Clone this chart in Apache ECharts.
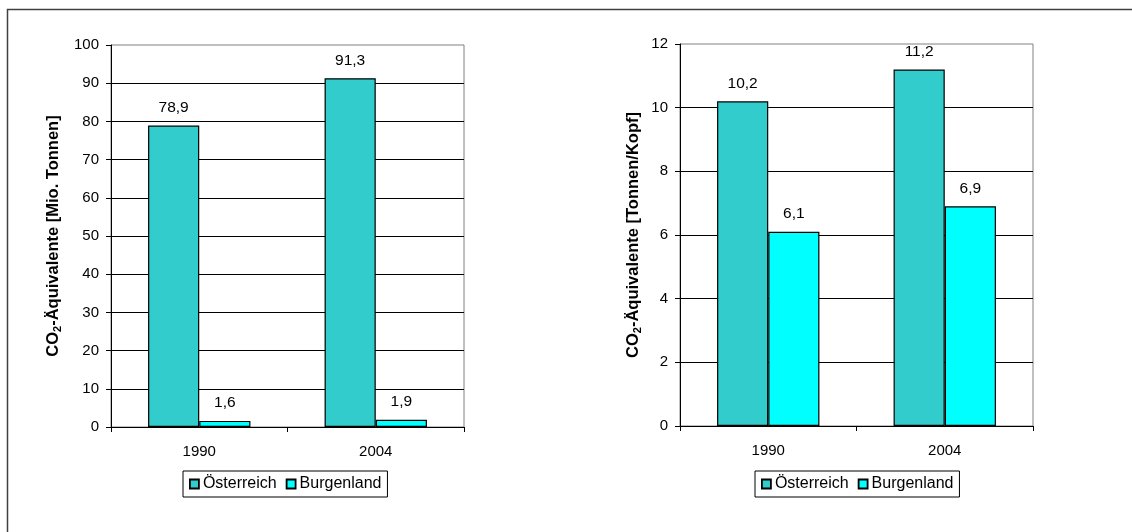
<!DOCTYPE html>
<html>
<head>
<meta charset="utf-8">
<script src="https://cdn.jsdelivr.net/npm/echarts@6/dist/echarts.min.js"></script>
<style>
  html, body { margin: 0; padding: 0; background: #fff; }
  #chart { width: 1132px; height: 532px; }
</style>
</head>
<body>
<div id="chart"></div>
<script>
// Years shown on both panels
const categories = ['1990', '2004'];
// Total CO2-equivalent emissions, million tonnes
const totalAustria = [78.9, 91.3];
const totalBurgenland = [1.6, 1.9];
// CO2-equivalent emissions per capita, tonnes per person
const perCapitaAustria = [10.2, 11.2];
const perCapitaBurgenland = [6.1, 6.9];
// Y axis settings for each panel
const totalAxis = { min: 0, max: 100, interval: 10 };
const perCapitaAxis = { min: 0, max: 12, interval: 2 };
const seriesNames = ['Österreich', 'Burgenland'];

const FONT = '"Liberation Sans", Arial, sans-serif';
const COLORS = ['#33CCCC', '#00FFFF'];

const chart = echarts.init(document.getElementById('chart'), null, { renderer: 'canvas' });

function comma(v) { return v.toFixed(1).replace('.', ','); }

function yAxisFor(idx, range, unit, gap) {
  return {
    type: 'value', gridIndex: idx,
    min: range.min, max: range.max, interval: range.interval,
    axisLine: { show: true, lineStyle: { color: '#000', width: 1 } },
    axisTick: { show: true, length: 5, lineStyle: { color: '#000' } },
    axisLabel: { color: '#000', fontFamily: FONT, fontSize: 15, margin: 12 },
    splitLine: { show: true, showMaxLine: false, lineStyle: { color: '#000', width: 1 } },
    name: '{b|CO}{s|2}{b|-Äquivalente ' + unit + '}',
    nameLocation: 'middle', nameGap: gap, nameRotate: 90,
    nameTextStyle: {
      fontFamily: FONT, fontWeight: 'bold', fontSize: 16, color: '#000',
      rich: {
        b: { fontFamily: FONT, fontWeight: 'bold', fontSize: 16.5, color: '#000', lineHeight: 19 },
        s: { fontFamily: FONT, fontWeight: 'bold', fontSize: 11, color: '#000', lineHeight: 19, padding: [8, 0, 0, 0] }
      }
    }
  };
}

function xAxisFor(idx) {
  return {
    type: 'category', gridIndex: idx, data: categories,
    axisLine: { show: true, lineStyle: { color: '#000', width: 1 } },
    axisTick: { show: true, length: 5, lineStyle: { color: '#000' } },
    axisLabel: { color: '#000', fontFamily: FONT, fontSize: 15, margin: 17 },
    splitLine: { show: false }
  };
}

function barSeries(name, idx, data, color) {
  return {
    name, type: 'bar', xAxisIndex: idx, yAxisIndex: idx, data,
    barGap: '0%', barCategoryGap: '42%',
    itemStyle: { color, borderColor: '#000', borderWidth: 1.2 },
    label: {
      show: true, position: 'top', distance: 10,
      color: '#000', fontFamily: FONT, fontSize: 15.5,
      formatter: p => comma(p.value)
    },
    emphasis: { disabled: true },
    animation: false
  };
}

function legendFor(left) {
  return {
    data: seriesNames, left, top: 471,
    orient: 'horizontal',
    itemWidth: 9, itemHeight: 9, itemGap: 9,
    icon: 'rect',
    padding: [5, 6, 5, 6],
    borderColor: '#000', borderWidth: 1,
    textStyle: { color: '#000', fontFamily: FONT, fontSize: 16, padding: [0, 0, 0, -1] },
    itemStyle: { borderColor: '#000', borderWidth: 1.8 },
    selectedMode: false
  };
}

chart.setOption({
  backgroundColor: '#fff',
  animation: false,
  grid: [
    { left: 111, top: 45, width: 353, height: 382, show: true, borderColor: '#808080', borderWidth: 1, backgroundColor: 'transparent' },
    { left: 680, top: 44, width: 353, height: 382, show: true, borderColor: '#808080', borderWidth: 1, backgroundColor: 'transparent' }
  ],
  xAxis: [xAxisFor(0), xAxisFor(1)],
  yAxis: [
    yAxisFor(0, totalAxis, '[Mio. Tonnen]', 48),
    yAxisFor(1, perCapitaAxis, '[Tonnen/Kopf]', 37)
  ],
  legend: [legendFor(183), legendFor(755)],
  series: [
    barSeries(seriesNames[0], 0, totalAustria, COLORS[0]),
    barSeries(seriesNames[1], 0, totalBurgenland, COLORS[1]),
    barSeries(seriesNames[0], 1, perCapitaAustria, COLORS[0]),
    barSeries(seriesNames[1], 1, perCapitaBurgenland, COLORS[1])
  ],
  graphic: [
    {
      type: 'polyline', silent: true,
      shape: { points: [[7.5, 532], [7.5, 9.5], [1132, 9.5]] },
      style: { stroke: '#404040', lineWidth: 1.5, fill: null }
    }
  ]
});
</script>
</body>
</html>
